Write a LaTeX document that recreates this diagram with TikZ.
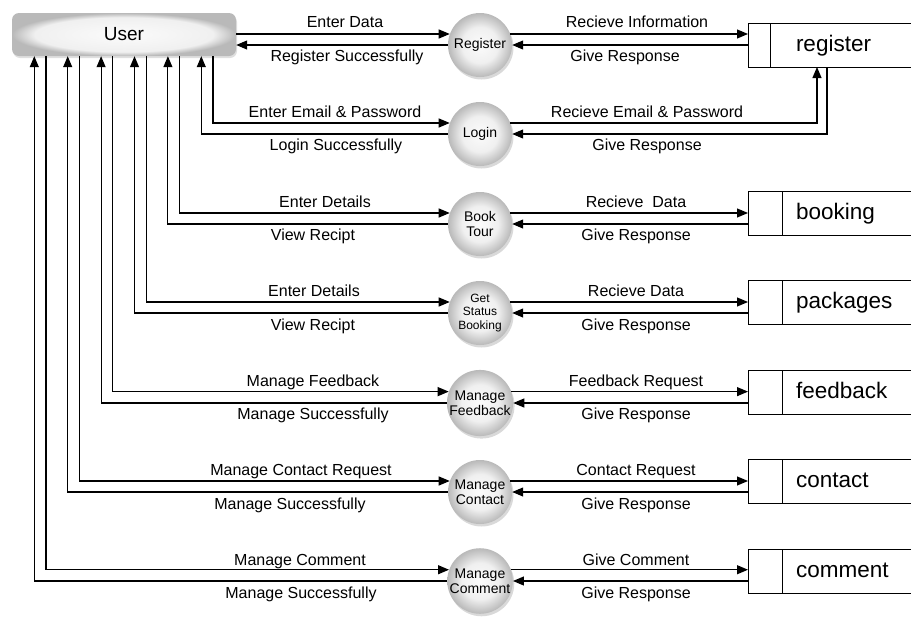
\documentclass[tikz,border=0pt]{standalone}
\usepackage{fontspec}
\setmainfont{Liberation Sans}
\usetikzlibrary{arrows.meta,calc,shadows}

\colorlet{shdIn}{gray!3}
\colorlet{shdMid}{gray!12}
\colorlet{shdOut}{gray!55}
\pgfdeclareradialshading{procshade}{\pgfpoint{0bp}{0bp}}{color(0bp)=(shdIn); color(14bp)=(shdMid); color(25bp)=(shdOut); color(50bp)=(shdOut)}
\pgfdeclareradialshading{usershade}{\pgfpoint{0bp}{0bp}}{color(0bp)=(shdIn); color(20bp)=(shdMid); color(25bp)=(shdOut); color(50bp)=(shdOut)}

\tikzset{
  userbox/.style={shade,shading=usershade,rounded corners=7pt,minimum width=224pt,minimum height=43pt,
    font=\fontsize{19}{21}\selectfont,drop shadow={shadow xshift=1pt,shadow yshift=-2pt,opacity=0.25}},
  proc/.style={circle,shade,shading=procshade,minimum size=64pt,inner sep=0pt,align=center,
    font=\fontsize{14}{15}\selectfont,drop shadow={shadow xshift=1.5pt,shadow yshift=-2.5pt,opacity=0.3}},
  store/.style={draw,line width=1pt,anchor=west,outer sep=0pt,minimum height=44pt,inner xsep=48pt,
    text width=116pt,text height=14pt,text depth=2pt,align=left,font=\fontsize{22.5}{24}\selectfont},
  flow/.style={line width=1.1pt,-{Triangle[length=11pt,width=9pt]}},
  lbl/.style={font=\fontsize{16}{18}\selectfont,inner sep=0pt,text height=11.5pt,text depth=0pt}
}

\begin{document}
\begin{tikzpicture}[x=1pt,y=-1pt]
  \useasboundingbox (0,0) rectangle (911,619);
  \node[userbox] (user) at (124,34.5) {User};
  % processes
  \node[proc] (reg) at (480,45) {Register};
  \node[proc] (login) at (480,134) {Login};
  \node[proc] (book) at (480,224) {Book\\Tour};
  \node[proc,font=\fontsize{12}{13.5}\selectfont] (status) at (480,313) {Get\\Status\\Booking};
  \node[proc] (feed) at (480,403) {Manage\\Feedback};
  \node[proc] (contact) at (480,492) {Manage\\Contact};
  \node[proc] (comment) at (480,581) {Manage\\Comment};
  % data stores, open at the right
  \node[store] (sReg) at (748,45) {register};
  \node[store] (sBook) at (748,213) {booking};
  \node[store] (sPack) at (748,302) {packages};
  \node[store] (sFeed) at (748,392) {feedback};
  \node[store] (sCont) at (748,481) {contact};
  \node[store] (sCom) at (748,571) {comment};
  \foreach \s/\d in {sReg/22,sBook/34,sPack/34,sFeed/34,sCont/34,sCom/34}
    \draw[line width=1pt] ([xshift=\d pt]\s.north west) -- ([xshift=\d pt]\s.south west);

  \draw[flow] (user.east |- reg.160) -- (reg.160);
  \draw[flow] (reg.west) -- (user.east |- reg.west);
  \draw[flow] (reg.20) -- (sReg.west |- reg.20);
  \draw[flow] (sReg.west |- reg.east) -- (reg.east);
  \draw[flow] (login.20) -| ([xshift=69pt]sReg.south west);
  \draw[flow] ([xshift=79pt]sReg.south west) |- (login.east);
  % User bottom: one pair of lines per process
  \foreach \p [count=\i from 0] in {login,book,status,feed,contact,comment} {
    \draw[flow] ([xshift={89-\i*33.4}]user.south) |- (\p.160);
    \draw[flow] (\p.west) -| ([xshift={77.3-\i*33.4}]user.south);
  }
  \foreach \p/\s in {book/sBook,status/sPack,feed/sFeed,contact/sCont,comment/sCom} {
    \draw[flow] (\p.20) -- (\s.west |- \p.20);
    \draw[flow] (\s.west |- \p.east) -- (\p.east);
  }

  \foreach \x/\y/\t [count=\n] in {345/22/Enter Data, 347/56/Register Successfully,
      335/112/Enter Email \& Password, 336/145/Login Successfully,
      325/202/Enter Details, 313/235/View Recipt, 314/291/Enter Details, 313/325/View Recipt,
      313/381/Manage Feedback, 313/414/Manage Successfully,
      301/470/Manage Contact Request, 290/504/Manage Successfully,
      300/560/Manage Comment, 301/593/Manage Successfully,
      637/22/Recieve Information, 625/56/Give Response,
      647/112/Recieve Email \& Password, 647/145/Give Response,
      636/202/Recieve\ \ Data, 636/235/Give Response, 636/291/Recieve Data, 636/325/Give Response,
      636/381/Feedback Request, 636/414/Give Response, 636/470/Contact Request, 636/504/Give Response,
      636/560/Give Comment, 636/593/Give Response}
    \node[lbl] (lbl\n) at (\x,\y) {\t};
\end{tikzpicture}
\end{document}
